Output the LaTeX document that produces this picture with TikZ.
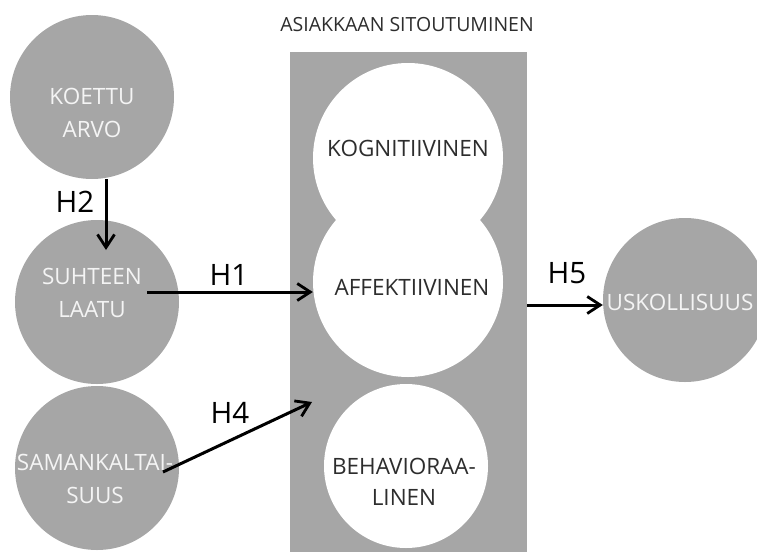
\documentclass[tikz,border=0pt]{standalone}
\usepackage{fontspec}
\setmainfont{Open Sans}
\usepackage{tikz}
\usetikzlibrary{arrows.meta, positioning, calc}
\definecolor{circlegrey}{RGB}{166, 166, 166}
\definecolor{textdark}{RGB}{45, 45, 45}
\definecolor{textlight}{RGB}{244, 244, 244}

\begin{document}
\begin{tikzpicture}[x=1pt, y=-1pt,
    outer/.style={circle, fill=circlegrey, minimum size=164pt, inner sep=0pt},
    inner/.style={circle, fill=white, inner sep=0pt},
    outtxt/.style={align=center, text=textlight, inner sep=0pt, font=\fontsize{22.5}{33}\selectfont},
    intxt/.style={align=center, text=textdark, inner sep=0pt, font=\fontsize{22.5}{31}\selectfont},
    hyp/.style={inner sep=0pt, text=black, font=\fontsize{29.5}{30}\selectfont},
    arrow/.style={-{Straight Barb[length=13pt, width=17pt, line width=2.8pt]}, line width=3pt, black}
]
\useasboundingbox (0,0) rectangle (757,552);
\clip (0,0) rectangle (757,552);

% Engagement block
\node (TITLE) at (407,25) [inner sep=0pt, text=textdark, font=\fontsize{19.5}{20}\selectfont] {ASIAKKAAN SITOUTUMINEN};
\node (SITOUT) at (408.5,302) [rectangle, fill=circlegrey, minimum width=237pt, minimum height=500pt, inner sep=0pt] {};
\node (KOGN)   at (408,158) [inner, minimum size=190pt] {};
\node (AFFEKT) at (408,282) [inner, minimum size=190pt] {};
\node (BEHAV)  at (406,466) [inner, minimum size=164pt] {};
\node (KOGN-T)   at (408,148) [intxt] {KOGNITIIVINEN};
\node (AFFEKT-T) at (412,287) [intxt] {AFFEKTIIVINEN};
\node (BEHAV-T)  at (404,482) [intxt] {BEHAVIORAA-\\LINEN};

% Antecedents (left column)
\node (KOETTU) at (92,97)  [outer] {};
\node (LAATU)  at (97,302) [outer] {};
\node (SAMANK) at (97,468) [outer] {};
\node (KOETTU-T) at (92,113) [outtxt] {KOETTU\\ARVO};
\node (LAATU-T)  at (92,293) [outtxt] {SUHTEEN\\LAATU};
\node (SAMANK-T) at (95,479) [outtxt] {SAMANKALTAI-\\SUUS};

% Outcome
\node (USKOL)   at (685,300) [outer] {};
\node (USKOL-T) at (680,302) [outtxt] {USKOLLISUUS};

% Hypotheses
\coordinate (H2END) at (106,250);
\draw [arrow] (KOETTU.south -| H2END) -- (H2END);
\node (H2) at (75,202) [hyp] {H2};

\coordinate (H1START) at (147,292);
\draw [arrow] (H1START) -- (H1START -| AFFEKT.west);
\node (H1) at (229,275) [hyp] {H1};

\coordinate (H4START) at (163,472);
\coordinate (H4END) at (312,402);
\draw [arrow] (H4START) -- (H4END);
\node (H4) at (230,413) [hyp] {H4};

\coordinate (H5Y) at (0,305);
\draw [arrow] (SITOUT.east |- H5Y) -- (USKOL.west |- H5Y);
\node (H5) at (567,273) [hyp] {H5};

\end{tikzpicture}
\end{document}
